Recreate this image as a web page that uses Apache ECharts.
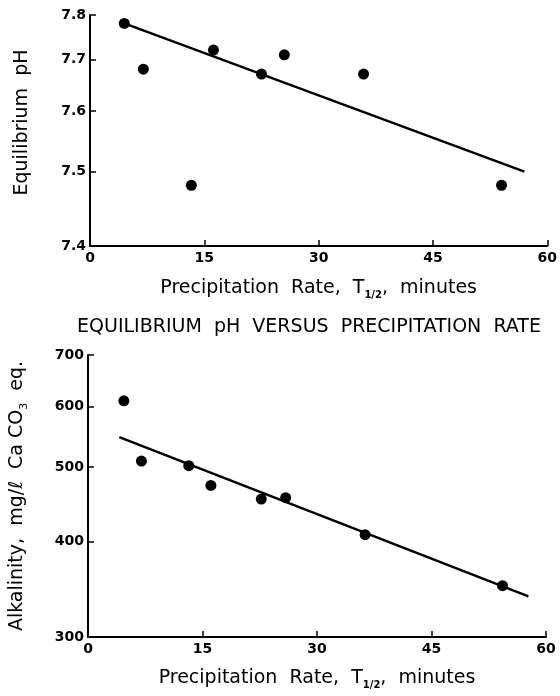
<!DOCTYPE html>
<html><head><meta charset="utf-8">
<script src="https://cdn.jsdelivr.net/npm/echarts@6/dist/echarts.min.js"></script>
<style>html,body{margin:0;padding:0;background:#fff}#c{width:560px;height:696px}</style>
</head><body><div id="c"></div>
<script>
// ---- data ----
const rateTicks = [0, 15, 30, 45, 60];
const phTicks = [7.4, 7.5, 7.6, 7.7, 7.8];
const alkTicks = [300, 400, 500, 600, 700];

const phRate = [4.5, 7.0, 13.3, 16.2, 22.5, 25.5, 35.9, 54.0];
const phValues = [7.78, 7.68, 7.48, 7.72, 7.67, 7.71, 7.67, 7.48];
const phFitRate = [4.5, 57.0];
const phFitValues = [7.78, 7.50];

const alkRate = [4.7, 7.0, 13.2, 16.1, 22.7, 25.9, 36.3, 54.3];
const alkValues = [610, 509, 502, 473, 454, 456, 408, 350];
const alkFitRate = [4.1, 57.7];
const alkFitValues = [547, 339];

// both panels are drawn on the same semi-log paper
const phScale = v => Math.log10(v - 7);
const alkScale = v => Math.log10(v);

const FONT = 'DejaVu Sans';
const zip = (xs, ys, f) => xs.map((x, i) => [x, f(ys[i])]);

function xAxisCfg(gridIndex, gap) {
  return {
    gridIndex, type: 'value', min: rateTicks[0], max: rateTicks[rateTicks.length - 1], interval: 15,
    axisLine: { show: true, onZero: false, lineStyle: { color: '#000', width: 2 } },
    axisTick: { show: true, inside: true, length: 6, lineStyle: { color: '#000', width: 1.5 } },
    axisLabel: { color: '#000', fontSize: 14, fontWeight: 'bold', fontFamily: FONT, margin: 5 },
    splitLine: { show: false },
    name: 'Precipitation  Rate,  T{sub|1/2},  minutes',
    nameLocation: 'middle', nameGap: gap,
    nameTextStyle: {
      color: '#000', fontSize: 19, fontFamily: FONT,
      rich: { sub: { fontSize: 10, fontWeight: 'bold', fontFamily: FONT, color: '#000', padding: [14, 0, 0, 0] } }
    }
  };
}
function yAxisCfg(gridIndex, ticks, scale, fmt, name, gap, pad) {
  const vals = ticks.map(scale);
  return {
    gridIndex, type: 'value', min: vals[0], max: vals[vals.length - 1],
    axisLine: { show: true, onZero: false, lineStyle: { color: '#000', width: 2 } },
    axisTick: { show: true, inside: true, length: 6, customValues: vals, lineStyle: { color: '#000', width: 1.5 } },
    axisLabel: { color: '#000', fontSize: 14, fontWeight: 'bold', fontFamily: FONT, margin: 4, customValues: vals, formatter: fmt },
    splitLine: { show: false },
    name, nameLocation: 'middle', nameRotate: 90, nameGap: gap,
    nameTextStyle: {
      color: '#000', fontSize: 19, fontFamily: FONT, padding: pad,
      rich: { sub: { fontSize: 11, fontFamily: FONT, color: '#000', padding: [14, 0, 0, 0] } }
    }
  };
}

const chart = echarts.init(document.getElementById('c'), null, { renderer: 'canvas' });
chart.setOption({
  animation: false,
  backgroundColor: '#fff',
  title: {
    text: 'EQUILIBRIUM  pH  VERSUS  PRECIPITATION  RATE',
    left: 304, top: 313, textAlign: 'center',
    textStyle: { color: '#000', fontSize: 19, fontWeight: 'normal', fontFamily: FONT }
  },
  grid: [
    { left: 90, right: 9, top: 15, height: 231 },
    { left: 87, right: 14, top: 355, height: 282 }
  ],
  xAxis: [xAxisCfg(0, 30), xAxisCfg(1, 29)],
  yAxis: [
    yAxisCfg(0, phTicks, phScale, v => (7 + Math.pow(10, v)).toFixed(1), 'Equilibrium  pH', 58, [0, 0, 0, 16]),
    yAxisCfg(1, alkTicks, alkScale, v => String(Math.round(Math.pow(10, v))), 'Alkalinity,  mg/ℓ  Ca CO{sub|3}  eq.', 58, 0)
  ],
  series: [
    { type: 'scatter', xAxisIndex: 0, yAxisIndex: 0, data: zip(phRate, phValues, phScale),
      symbolSize: 11, itemStyle: { color: '#000', opacity: 1 } },
    { type: 'line', xAxisIndex: 0, yAxisIndex: 0, data: zip(phFitRate, phFitValues, phScale),
      symbol: 'none', lineStyle: { color: '#000', width: 2.5 } },
    { type: 'scatter', xAxisIndex: 1, yAxisIndex: 1, data: zip(alkRate, alkValues, alkScale),
      symbolSize: 11, itemStyle: { color: '#000', opacity: 1 } },
    { type: 'line', xAxisIndex: 1, yAxisIndex: 1, data: zip(alkFitRate, alkFitValues, alkScale),
      symbol: 'none', lineStyle: { color: '#000', width: 2.5 } }
  ]
});
</script></body></html>
